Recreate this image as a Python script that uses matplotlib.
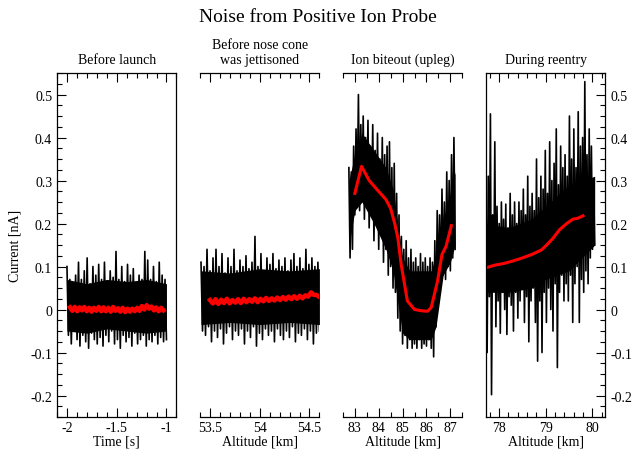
import numpy as np
import matplotlib
matplotlib.use("Agg")
import matplotlib.pyplot as plt
from matplotlib.ticker import MultipleLocator

plt.rcParams['font.family'] = ['Liberation Serif', 'DejaVu Serif']
plt.rcParams['axes.unicode_minus'] = False

# ---- panel 1: before launch (time axis) ----
p1_range = (-2.0, -1.0)
p1_peaks = [0.10, 0.07, 0.06, 0.08, 0.11, 0.07, 0.09, 0.12, 0.06, 0.10,
            0.08, 0.105, 0.07, 0.11, 0.06, 0.09, 0.075, 0.135, 0.07, 0.10,
            0.065, 0.105, 0.08, 0.095, 0.06, 0.08, 0.07, 0.135, 0.115, 0.07,
            0.10, 0.065, 0.11, 0.08, 0.07]
p1_troughs = [-0.06, -0.08, -0.05, -0.07, -0.085, -0.06, -0.075, -0.09, -0.055, -0.07,
              -0.08, -0.065, -0.085, -0.06, -0.075, -0.05, -0.08, -0.07, -0.09, -0.06,
              -0.075, -0.065, -0.085, -0.055, -0.08, -0.07, -0.06, -0.085, -0.07, -0.075,
              -0.06, -0.08, -0.065, -0.075, -0.07]
p1_core_x = [-2.0, -1.8, -1.6, -1.4, -1.2, -1.0]
p1_core_hi = [0.07, 0.06, 0.07, 0.065, 0.07, 0.06]
p1_core_lo = [-0.05, -0.055, -0.045, -0.05, -0.055, -0.05]
p1_red_range = (-1.97, -1.03)
p1_red = [0.005, -0.003, 0.006, -0.004, 0.005, -0.002, 0.006, -0.004, 0.004, -0.005,
          0.004, -0.003, 0.006, -0.004, 0.005, -0.004, 0.004, -0.005, 0.006, -0.003,
          0.003, -0.005, 0.004, -0.006, 0.002, -0.005, 0.002, -0.004, 0.004, -0.003,
          0.008, 0.000, 0.010, 0.002, 0.007, -0.002, 0.005, -0.004, 0.004, -0.002]

# ---- panel 2: before nose cone was jettisoned ----
p2_range = (53.41, 54.60)
p2_peaks = [0.11, 0.10, 0.14, 0.09, 0.12, 0.14, 0.10, 0.13, 0.085, 0.12,
            0.10, 0.14, 0.09, 0.115, 0.10, 0.125, 0.095, 0.11, 0.17, 0.10,
            0.13, 0.09, 0.12, 0.105, 0.13, 0.095, 0.115, 0.10, 0.12, 0.09,
            0.115, 0.13, 0.10, 0.12, 0.095, 0.14, 0.105, 0.12, 0.10, 0.11]
p2_troughs = [-0.05, -0.06, -0.04, -0.075, -0.05, -0.065, -0.045, -0.08, -0.055, -0.04,
              -0.07, -0.05, -0.06, -0.045, -0.08, -0.05, -0.065, -0.04, -0.085, -0.055,
              -0.07, -0.045, -0.06, -0.05, -0.075, -0.045, -0.06, -0.07, -0.05, -0.065,
              -0.04, -0.075, -0.055, -0.06, -0.045, -0.07, -0.05, -0.08, -0.055, -0.05]
p2_core_x = [53.41, 53.7, 54.0, 54.3, 54.60]
p2_core_hi = [0.09, 0.085, 0.095, 0.09, 0.095]
p2_core_lo = [-0.035, -0.03, -0.035, -0.03, -0.035]
p2_red_range = (53.50, 54.60)
p2_red = [0.022, 0.014, 0.024, 0.013, 0.023, 0.015, 0.025, 0.014, 0.022, 0.016,
          0.024, 0.015, 0.025, 0.017, 0.024, 0.018, 0.026, 0.017, 0.025, 0.019,
          0.027, 0.020, 0.026, 0.021, 0.028, 0.022, 0.029, 0.023, 0.030, 0.024,
          0.031, 0.025, 0.032, 0.026, 0.033, 0.030, 0.040, 0.034, 0.034, 0.029]

# ---- panel 3: ion biteout (upleg) ----
p3_range = (82.75, 87.20)
p3_peaks = [0.33, 0.32, 0.38, 0.42, 0.50, 0.43, 0.45, 0.40, 0.44, 0.38,
            0.43, 0.37, 0.41, 0.35, 0.40, 0.36, 0.38, 0.39, 0.33, 0.34,
            0.27, 0.22, 0.17, 0.14, 0.16, 0.12, 0.14, 0.11, 0.12, 0.10,
            0.13, 0.11, 0.12, 0.10, 0.12, 0.11, 0.16, 0.23, 0.22, 0.28,
            0.25, 0.32, 0.30, 0.36, 0.40]
p3_troughs = [0.12, 0.14, 0.22, 0.25, 0.23, 0.26, 0.21, 0.24, 0.19, 0.22,
              0.16, 0.20, 0.14, 0.18, 0.11, 0.14, 0.08, 0.10, 0.05, 0.04,
              -0.02, -0.05, -0.08, -0.06, -0.09, -0.07, -0.09, -0.08, -0.09, -0.07,
              -0.09, -0.08, -0.085, -0.07, -0.09, -0.11, -0.04, 0.05, 0.06, 0.08,
              0.07, 0.10, 0.09, 0.12, 0.14]
p3_core_x = [82.75, 83.0, 83.3, 83.8, 84.3, 84.6, 84.85, 85.0, 85.3, 86.2,
             86.4, 86.7, 87.0, 87.2]
p3_core_hi = [0.30, 0.36, 0.41, 0.37, 0.33, 0.28, 0.18, 0.12, 0.09, 0.09,
              0.13, 0.21, 0.27, 0.32]
p3_core_lo = [0.15, 0.23, 0.25, 0.20, 0.14, 0.09, 0.0, -0.055, -0.07, -0.07,
              -0.04, 0.08, 0.11, 0.15]
p3_red_x = [83.0, 83.28, 83.6, 83.96, 84.3, 84.5, 84.67, 84.8, 84.94, 85.2,
            85.5, 85.8, 86.05, 86.2, 86.46, 86.65, 86.82, 87.04]
p3_red_y = [0.27, 0.333, 0.30, 0.277, 0.256, 0.235, 0.20, 0.167, 0.105, 0.02,
            0.0, -0.003, -0.004, 0.005, 0.065, 0.128, 0.147, 0.195]

# ---- panel 4: during reentry ----
p4_range = (77.72, 80.05)
p4_peaks = [0.26, 0.31, 0.455, 0.22, 0.39, 0.24, 0.20, 0.25, 0.21, 0.245,
            0.19, 0.27, 0.22, 0.25, 0.20, 0.25, 0.23, 0.28, 0.22, 0.31,
            0.24, 0.27, 0.23, 0.35, 0.26, 0.31, 0.28, 0.37, 0.27, 0.39,
            0.30, 0.34, 0.42, 0.29, 0.38, 0.33, 0.36, 0.31, 0.45, 0.35,
            0.42, 0.33, 0.46, 0.38, 0.40, 0.53, 0.36, 0.42, 0.38, 0.30]
p4_troughs = [-0.10, 0.03, -0.198, 0.05, -0.04, 0.02, -0.055, 0.04, 0.0, -0.058,
              0.03, 0.01, -0.05, 0.04, -0.02, 0.02, 0.05, -0.03, 0.03, -0.075,
              0.02, 0.05, -0.03, -0.12, 0.02, -0.10, 0.04, -0.03, 0.05, 0.0,
              -0.05, 0.06, -0.135, 0.04, 0.08, 0.02, 0.06, 0.02, 0.08, -0.03,
              0.06, 0.10, -0.03, 0.07, 0.04, 0.09, 0.06, 0.12, 0.14, 0.15]
p4_core_x = [77.72, 78.2, 78.7, 79.0, 79.5, 80.05]
p4_core_hi = [0.20, 0.19, 0.21, 0.24, 0.29, 0.31]
p4_core_lo = [0.04, 0.04, 0.05, 0.07, 0.09, 0.15]
p4_red_x = [77.72, 77.9, 78.1, 78.3, 78.5, 78.7, 78.9, 79.0, 79.15, 79.3,
            79.45, 79.58, 79.68, 79.8]
p4_red_y = [0.097, 0.103, 0.107, 0.113, 0.12, 0.128, 0.138, 0.148, 0.165, 0.186,
            0.20, 0.21, 0.212, 0.218]

titles = ["Before launch", "Before nose cone\nwas jettisoned",
          "Ion biteout (upleg)", "During reentry"]
xlabels = ["Time [s]", "Altitude [km]", "Altitude [km]", "Altitude [km]"]
xlims = [(-2.1, -0.9), (53.4, 54.6), (82.5, 87.5), (77.72, 80.28)]
major = [0.5, 0.5, 1.0, 1.0]
minor = [0.1, 0.1, 0.5, 0.2]
lefts = [0.0898, 0.315, 0.540, 0.7654]


def noise(ax, rng, peaks, troughs, cx, chi, clo):
    # solid core of the signal plus alternating upper / lower spike tips
    ax.fill_between(cx, clo, chi, color='black', lw=0)
    t = np.linspace(rng[0], rng[1], 2 * len(peaks))
    y = np.empty(2 * len(peaks))
    y[0::2] = peaks
    y[1::2] = troughs
    ax.plot(t, y, color='black', lw=1.2)


fig = plt.figure(figsize=(6.35, 4.52), dpi=100)
axes = [fig.add_axes([l, 0.0752, 0.188, 0.761]) for l in lefts]

noise(axes[0], p1_range, p1_peaks, p1_troughs, p1_core_x, p1_core_hi, p1_core_lo)
axes[0].plot(np.linspace(*p1_red_range, len(p1_red)), p1_red, color='red', lw=3.2)
noise(axes[1], p2_range, p2_peaks, p2_troughs, p2_core_x, p2_core_hi, p2_core_lo)
axes[1].plot(np.linspace(*p2_red_range, len(p2_red)), p2_red, color='red', lw=3.2)
noise(axes[2], p3_range, p3_peaks, p3_troughs, p3_core_x, p3_core_hi, p3_core_lo)
axes[2].plot(p3_red_x, p3_red_y, color='red', lw=2.2)
noise(axes[3], p4_range, p4_peaks, p4_troughs, p4_core_x, p4_core_hi, p4_core_lo)
axes[3].plot(p4_red_x, p4_red_y, color='red', lw=2.2)

for i, ax in enumerate(axes):
    ax.set_xlim(xlims[i])
    ax.set_ylim(-0.25, 0.55)
    ax.set_title(titles[i], fontsize=10, pad=7)
    ax.set_xlabel(xlabels[i], fontsize=10, labelpad=0)
    ax.xaxis.set_major_locator(MultipleLocator(major[i]))
    ax.xaxis.set_minor_locator(MultipleLocator(minor[i]))
    ax.yaxis.set_major_locator(MultipleLocator(0.1))
    ax.yaxis.set_minor_locator(MultipleLocator(0.025))
    ax.tick_params(axis='x', which='both', direction='in', top=True, bottom=True,
                   labelsize=10, pad=3)
    ax.tick_params(axis='x', which='major', length=6.5, width=0.8)
    ax.tick_params(axis='x', which='minor', length=3.5, width=0.8)
    ax.tick_params(axis='y', which='both', direction='in', left=False, right=False,
                   labelleft=False, labelright=False, labelsize=10)
    ax.tick_params(axis='y', which='major', length=6.5, width=0.8)
    ax.tick_params(axis='y', which='minor', length=3.5, width=0.8)
    for s in ax.spines.values():
        s.set_linewidth(0.9)
    ax.xaxis.set_major_formatter(matplotlib.ticker.FormatStrFormatter('%g'))
    ax.yaxis.set_major_formatter(matplotlib.ticker.FormatStrFormatter('%g'))

for ax in axes[1:3]:
    ax.spines['left'].set_visible(False)
    ax.spines['right'].set_visible(False)

axes[0].tick_params(axis='y', which='both', left=True, labelleft=True)
axes[0].set_ylabel("Current [nA]", fontsize=10, labelpad=6)
axes[3].tick_params(axis='y', which='both', right=True, labelright=True)

fig.suptitle("Noise from Positive Ion Probe", fontsize=14, y=0.962, va='center')

fig.savefig("out.png", dpi=100)
